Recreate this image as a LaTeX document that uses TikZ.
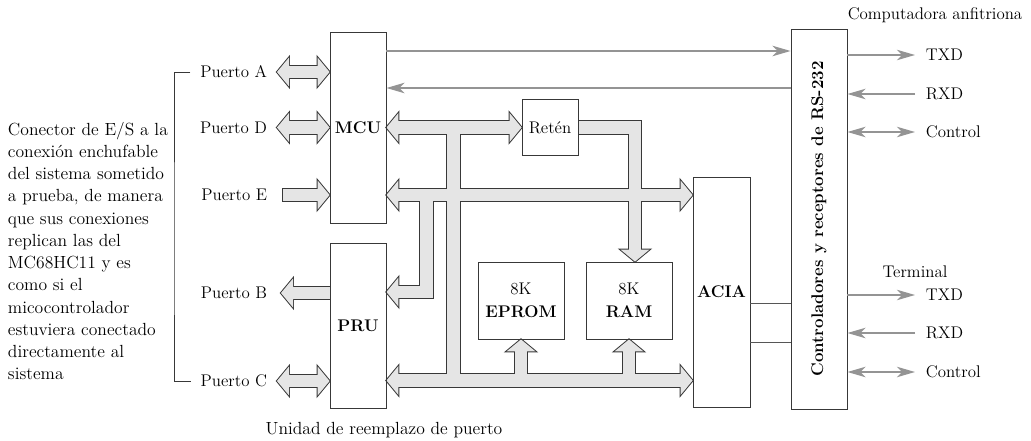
\documentclass[tikz,border=0pt]{standalone}
\usepackage{amsmath}
\usetikzlibrary{arrows.meta, calc, positioning}
\definecolor{bxLine}{gray}{0.22}
\definecolor{busFill}{gray}{0.9}
\definecolor{sigGrey}{gray}{0.58}
\pgfdeclarelayer{background}
\pgfsetlayers{background,main}
\tikzset{
  lbl/.style      = {font=\fontsize{12}{15.6}\selectfont},
  blk/.style      = {draw=bxLine, line width=0.6pt, inner sep=0pt, minimum width=1.4cm,
                     align=center, lbl},
  sig/.style      = {sigGrey, line width=1.4pt, -{Stealth[length=4.5mm, width=2.6mm, inset=1.3mm]}},
  sigboth/.style  = {sigGrey, line width=1.4pt,
                     {Stealth[length=4.5mm, width=2.6mm, inset=1.3mm]}-{Stealth[length=4.5mm, width=2.6mm, inset=1.3mm]}},
  wire/.style     = {bxLine!85, line width=0.6pt},
  bracket/.style  = {bxLine, line width=0.6pt},
  busedge/.style  = {draw=bxLine, line width=10pt},
  busfill/.style  = {draw=busFill, line width=8.6pt},
  headedge/.style = {fill=bxLine, draw=bxLine, line width=1.4pt},
  headfill/.style = {fill=busFill},
}
% arrow head of a bus: style, tip point, direction
\newcommand\bushead[3]{%
  \path[#1, shift={(#2)}, rotate=#3] (0,0) -- (-12,-14.5) -- (-12,14.5) -- cycle;}
% whole bus network, drawn once for the edges and once for the filling
\newcommand\busnet[3]{%
  % ports
  \path[#1] ($(pA)+(10,0)$) -- ($(MCU.west |- pA)+(-10,0)$);
  \bushead{#2}{pA}{180} \bushead{#2}{MCU.west |- pA}{0}
  \path[#1] ($(pD)+(10,0)$) -- ($(MCU.west |- pD)+(-10,0)$);
  \bushead{#2}{pD}{180} \bushead{#2}{MCU.west |- pD}{0}
  \path[#1, shorten <=#3] (pE) -- ($(MCU.west |- pE)+(-10,0)$);
  \bushead{#2}{MCU.west |- pE}{0}
  \path[#1] (PRU.west |- pB) -- ($(pB)+(10,0)$);
  \bushead{#2}{pB}{180}
  \path[#1] ($(pC)+(10,0)$) -- ($(PRU.west |- pC)+(-10,0)$);
  \bushead{#2}{pC}{180} \bushead{#2}{PRU.west |- pC}{0}
  % MCU - Reten
  \path[#1] ($(MCU.east |- Ret.west)+(10,0)$) -- ($(Ret.west)+(-10,0)$);
  \bushead{#2}{MCU.east |- Ret.west}{180} \bushead{#2}{Ret.west}{0}
  \path[#1] (t1 |- Ret.west) -- (t1 |- b3);
  % MCU - ACIA, branch to PRU
  \path[#1] ($(MCU.east |- b2)+(10,0)$) -- ($(ACIA.west |- b2)+(-10,0)$);
  \bushead{#2}{MCU.east |- b2}{180} \bushead{#2}{ACIA.west |- b2}{0}
  \path[#1] (t2 |- b2) -- (t2 |- bp) -- ($(PRU.east |- bp)+(10,0)$);
  \bushead{#2}{PRU.east |- bp}{180}
  % Reten - RAM
  \path[#1] (Ret.east) -- (t4 |- Ret.east) -- ($(t4 |- RAM.north)+(0,-10)$);
  \bushead{#2}{t4 |- RAM.north}{-90}
  % lower bus
  \path[#1] ($(PRU.east |- b3)+(10,0)$) -- ($(ACIA.west |- b3)+(-10,0)$);
  \bushead{#2}{PRU.east |- b3}{180} \bushead{#2}{ACIA.west |- b3}{0}
  \path[#1] (EPROM.south |- b3) -- ($(EPROM.south)+(0,10)$);
  \bushead{#2}{EPROM.south}{90}
  \path[#1] (RAM.south |- b3) -- ($(RAM.south)+(0,10)$);
  \bushead{#2}{RAM.south}{90}
}

\begin{document}
\begin{tikzpicture}[x=0.025cm, y=-0.025cm]
  \useasboundingbox (0,0) rectangle (1031,440);

  \node[blk, minimum height=4.775cm] (MCU) at (358,127.5) {\bfseries MCU};
  \node[blk, minimum height=4.125cm] (PRU) at (358,325.5) {\bfseries PRU};
  \node[blk, minimum height=1.4cm] (Ret) at (550,127.5) {Retén};
  \node[blk, minimum width=2.15cm, minimum height=1.925cm] (EPROM) at (521,300.5) {8K\\[1pt]\bfseries EPROM};
  \node[blk, minimum width=2.15cm, minimum height=1.925cm] (RAM) at (629,300.5) {8K\\[1pt]\bfseries RAM};
  \node[blk, minimum width=1.425cm, minimum height=5.75cm] (ACIA) at (721.5,292) {\bfseries ACIA};
  \node[blk, minimum height=9.5cm] (RS) at (819,219) {};
  \node[lbl, rotate=90, font=\fontsize{12}{15.6}\selectfont\bfseries] (RStxt) at (RS.center)
    {Controladores y receptores de RS-232};

  % ports
  \node[lbl, anchor=east] (lA) at (272,72) {Puerto A};
  \node[lbl, anchor=east] (lD) at (272,127.5) {Puerto D};
  \node[lbl, anchor=east] (lE) at (272,195) {Puerto E};
  \node[lbl, anchor=east] (lB) at (272,293) {Puerto B};
  \node[lbl, anchor=east] (lC) at (272,381) {Puerto C};
  \coordinate (pA) at ($(lA.east)+(5,0)$);
  \coordinate (pD) at ($(lD.east)+(5,0)$);
  \coordinate (pE) at ($(lE.east)+(11,0)$);
  \coordinate (pB) at ($(lB.east)+(9,0)$);
  \coordinate (pC) at ($(lC.east)+(5,0)$);
  \coordinate (brk) at (174,250);
  \draw[bracket] ($(lA.west)+(-5,0)$) -| (brk) |- ($(lC.west)+(-5,0)$);
  \node[lbl, anchor=west, align=left, font=\fontsize{12.5}{15.8}\selectfont] (desc) at (3,251)
    {Conector de E/S a la\\conexión enchufable\\
    del sistema sometido\\a prueba, de manera\\que sus conexiones\\replican las del\\MC68HC11 y es\\
    como si el\\micocontrolador\\estuviera conectado\\directamente al\\sistema};
  \node[lbl, font=\fontsize{12.5}{15.6}\selectfont] (unit) at (384,430) {Unidad de reemplazo de puerto};

  % buses
  \coordinate (b2) at (0,195);
  \coordinate (b3) at (0,380.5);
  \coordinate (bp) at (0,292);
  \coordinate (t1) at (453.5,0);
  \coordinate (t2) at (426.5,0);
  \coordinate (t4) at (635,0);
  \begin{pgfonlayer}{background}
    \busnet{busedge}{headedge}{-0.7pt}
    \busnet{busfill}{headfill}{0pt}
  \end{pgfonlayer}

  % serial lines
  \coordinate (s1) at (0,51);
  \coordinate (s2) at (0,88);
  \draw[sig] (MCU.east |- s1) -- (RS.west |- s1);
  \draw[sig] (RS.west |- s2) -- (MCU.east |- s2);
  \coordinate (w1) at (0,303);
  \coordinate (w2) at (0,342);
  \draw[wire] (ACIA.east |- w1) -- (RS.west |- w1);
  \draw[wire] (ACIA.east |- w2) -- (RS.west |- w2);

  \node[lbl] (host) at (935,15) {Computadora anfitriona};
  \node[lbl, anchor=west] (tx1) at (921,55) {TXD};
  \node[lbl, anchor=west] (rx1) at (921,94) {RXD};
  \node[lbl, anchor=west] (ct1) at (921,132) {Control};
  \draw[sig] (RS.east |- tx1) -- ([xshift=-1.5mm]tx1.west);
  \draw[sig] ([xshift=-1.5mm]rx1.west) -- (RS.east |- rx1);
  \draw[sigboth] (RS.east |- ct1) -- ([xshift=-1.5mm]ct1.west);

  \node[lbl] (term) at (915,272) {Terminal};
  \node[lbl, anchor=west] (tx2) at (921,295) {TXD};
  \node[lbl, anchor=west] (rx2) at (921,333) {RXD};
  \node[lbl, anchor=west] (ct2) at (921,372) {Control};
  \draw[sig] (RS.east |- tx2) -- ([xshift=-1.5mm]tx2.west);
  \draw[sig] ([xshift=-1.5mm]rx2.west) -- (RS.east |- rx2);
  \draw[sigboth] (RS.east |- ct2) -- ([xshift=-1.5mm]ct2.west);
\end{tikzpicture}
\end{document}
